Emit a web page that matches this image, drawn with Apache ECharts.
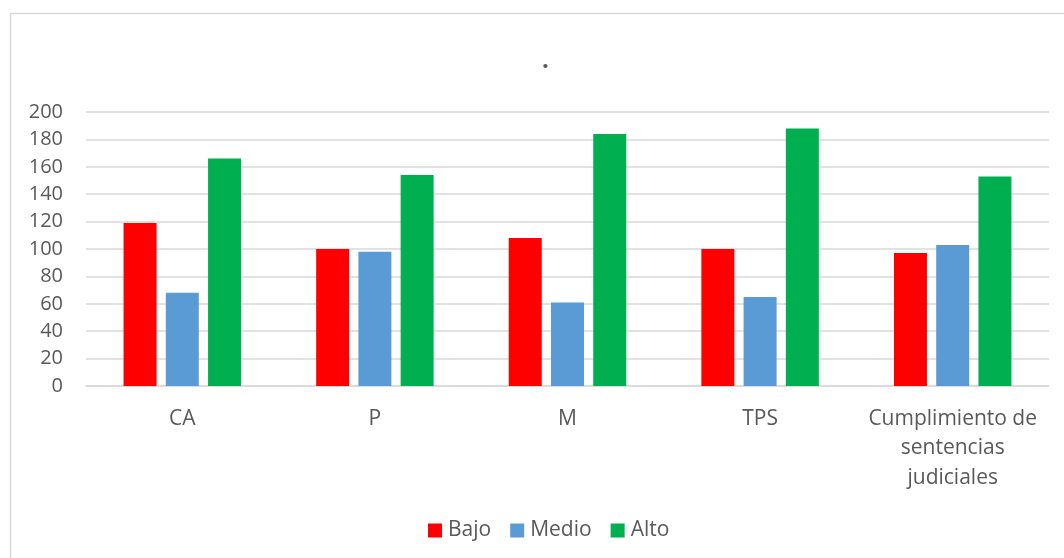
<!DOCTYPE html>
<html>
<head>
<meta charset="utf-8">
<script src="https://cdn.jsdelivr.net/npm/echarts@6/dist/echarts.min.js"></script>
<style>
html,body{margin:0;padding:0;background:#fff;}
#chart{width:1064px;height:558px;}
</style>
</head>
<body>
<div id="chart"></div>
<script>
const categories = ['CA', 'P', 'M', 'TPS', 'Cumplimiento de\nsentencias\njudiciales'];
const seriesNames = ['Bajo', 'Medio', 'Alto'];
const bajo = [119, 100, 108, 100, 97];
const medio = [68, 98, 61, 65, 103];
const alto = [166, 154, 184, 188, 153];
const yTicks = [0, 20, 40, 60, 80, 100, 120, 140, 160, 180, 200];
const colors = ['#FF0000', '#5B9BD5', '#00B050'];

const chart = echarts.init(document.getElementById('chart'), null, {renderer: 'canvas'});
const font = '"Open Sans", "Noto Sans", sans-serif';
const textColor = '#595959';
const values = [bajo, medio, alto];

chart.setOption({
  animation: false,
  backgroundColor: '#fff',
  graphic: [{
    type: 'rect',
    shape: {x: 10.5, y: 13.5, width: 1100, height: 600},
    style: {fill: 'none', stroke: '#d9d9d9', lineWidth: 1.5},
    silent: true
  }],
  title: {
    text: '.',
    left: 537,
    top: 44,
    textStyle: {color: textColor, fontFamily: font, fontSize: 24, fontWeight: 'bold'}
  },
  legend: {
    data: seriesNames,
    bottom: 12,
    left: 423,
    itemWidth: 14,
    itemHeight: 14,
    itemGap: 19,
    icon: 'rect',
    textStyle: {color: textColor, fontFamily: font, fontSize: 21, padding: [0, 0, 0, 1]}
  },
  grid: {left: 86, right: 15, top: 112, bottom: 172, containLabel: false},
  xAxis: {
    type: 'category',
    data: categories,
    axisLine: {lineStyle: {color: '#d9d9d9', width: 1.5}},
    axisTick: {show: false},
    axisLabel: {color: textColor, fontFamily: font, fontSize: 21, margin: 18, lineHeight: 29.5, interval: 0}
  },
  yAxis: {
    type: 'value',
    min: yTicks[0],
    max: yTicks[yTicks.length - 1],
    interval: yTicks[1] - yTicks[0],
    axisLine: {show: false},
    axisTick: {show: false},
    splitLine: {lineStyle: {color: '#d9d9d9', width: 1.5}},
    axisLabel: {color: textColor, fontFamily: font, fontSize: 20, margin: 23}
  },
  series: seriesNames.map((name, i) => ({
    name: name,
    type: 'bar',
    data: values[i],
    itemStyle: {color: colors[i]},
    barGap: '28%',
    barCategoryGap: '39%'
  }))
});
</script>
</body>
</html>
